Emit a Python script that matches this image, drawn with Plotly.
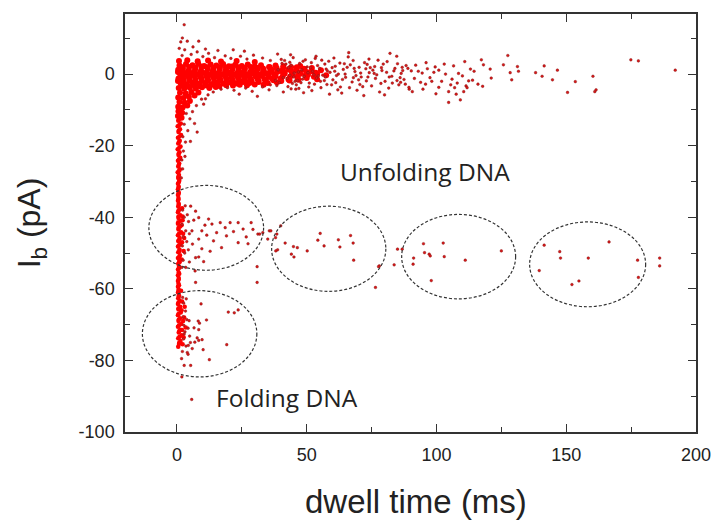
import plotly.graph_objects as go

# ---------------- data ----------------
x_ticks = [0, 50, 100, 150, 200]
x_ticktext = ["0", "50", "100", "150", "200"]
x_minor = [25, 75, 125, 175]
y_ticks = [-100, -80, -60, -40, -20, 0]
y_ticktext = ["-100", "-80", "-60", "-40", "-20", "0"]
y_minor = [-90, -70, -50, -30, -10, 10]

# dense core of the horizontal cloud near I_b = 0
core_x = [1.0, 3.5, 6.0, 8.2, 10.5, 13.0, 15.2, 17.8, 20.0, 22.5, 25.0, 27.3, 30.0, 32.4, 35.5, 38.0, 41.0, 44.0, 47.5,
          0.5, 2.3, 4.6, 7.0, 9.3, 11.8, 14.0, 16.5, 19.0, 21.4, 23.8, 26.2, 28.7, 31.0, 33.5, 36.5, 40.0, 43.0, 46.0, 49.0, 52.0, 55.5,
          1.2, 3.4, 5.8, 8.0, 10.4, 12.7, 15.0, 17.4, 19.8, 22.2, 24.6, 27.0, 29.5, 32.0, 34.5, 37.5, 41.5, 44.5, 47.5, 50.5, 54.0, 57.5,
          0.6, 2.6, 4.9, 7.1, 9.5, 11.9, 14.2, 16.6, 19.0, 21.3, 23.7, 26.1, 28.5, 31.0, 33.8, 36.8, 40.0, 43.0, 46.5, 50.0, 54.0,
          1.4, 3.8, 6.1, 8.5, 10.9, 13.2, 15.6, 18.0, 20.5, 23.0, 25.5, 28.0, 31.5, 35.0, 38.5,
          0.7, 2.8, 5.0, 7.3, 9.7, 12.5, 15.0,
          1.2, 3.4, 5.6, 8.3,
          0.5, 2.5, 4.6, 6.8,
          1.0, 3.0, 5.0,
          0.5, 2.2, 4.0,
          0.6, 2.0,
          0.4, 1.8,
          0.8, 4.0, 8.0, 12.0, 17.0, 23.0, 30.0,
          2.2, 4.7, 7.1, 9.4, 11.7, 14.1, 16.6, 18.9, 21.2, 23.6, 26.0, 28.5, 30.8, 33.2, 35.8, 38.4, 41.0, 43.6, 46.2, 49.0, 52.0,
          0.4, 2.4, 4.6, 6.9, 9.2, 11.6, 13.8, 16.2, 18.6, 21.0, 23.4, 25.8, 28.2, 30.6, 33.2, 35.8, 38.6, 41.4, 44.2, 47.0, 50.0, 53.5,
          2.2, 4.5, 6.8, 9.1, 11.4, 13.7, 16.0, 18.5, 20.9, 23.2, 25.6, 28.0, 30.3, 32.8, 35.4, 38.0, 40.8, 43.6, 46.5, 49.5, 52.8,
          0.4, 2.5, 4.8, 7.2, 9.6, 12.0, 14.4, 16.8, 19.2, 21.6, 24.0, 26.4, 28.8, 31.4, 34.2, 37.2, 40.2, 43.4, 46.8,
          2.0, 4.4, 6.6, 9.0, 11.4, 13.9, 16.4, 19.0, 21.6, 24.2, 27.0, 30.0, 33.4]
core_y = [2.4, 2.8, 2.5, 2.9, 2.3, 2.7, 2.4, 2.8, 2.2, 2.6, 2.3, 2.7, 2.1, 2.5, 2.0, 2.4, 2.2, 1.9, 2.3,
          1.2, 1.5, 1.1, 1.4, 1.0, 1.5, 1.2, 1.4, 1.0, 1.3, 1.1, 1.5, 1.0, 1.3, 0.9, 1.2, 0.9, 1.3, 1.0, 1.2, 0.8, 1.1,
          0.1, -0.2, 0.2, -0.1, 0.3, -0.2, 0.1, -0.1, 0.2, -0.2, 0.1, -0.1, 0.2, -0.2, 0.1, -0.1, 0.2, -0.1, 0.1, -0.2, 0.0, -0.3,
          -1.2, -1.5, -1.1, -1.4, -1.2, -1.5, -1.1, -1.4, -1.2, -1.5, -1.1, -1.3, -1.5, -1.2, -1.4, -1.3, -1.2, -1.5, -1.3, -1.1, -1.4,
          -2.5, -2.8, -2.4, -2.7, -2.5, -2.8, -2.4, -2.6, -2.3, -2.6, -2.2, -2.5, -2.2, -2.5, -2.3,
          -3.9, -4.1, -3.8, -4.0, -3.7, -3.9, -3.6,
          -5.2, -5.4, -5.0, -5.1,
          -6.5, -6.7, -6.3, -6.0,
          -7.8, -8.0, -7.5,
          -9.1, -9.3, -8.8,
          -10.4, -10.8,
          -11.7, -12.2,
          3.7, 3.9, 3.6, 3.8, 3.5, 3.7, 3.4,
          1.9, 2.0, 1.8, 2.1, 1.9, 1.7, 2.0, 1.8, 2.1, 1.9, 1.7, 2.0, 1.8, 1.6, 1.9, 1.7, 1.8, 1.6, 1.9, 1.5, 1.7,
          0.6, 0.7, 0.5, 0.8, 0.6, 0.4, 0.7, 0.5, 0.8, 0.6, 0.4, 0.7, 0.5, 0.6, 0.8, 0.5, 0.6, 0.4, 0.7, 0.5, 0.6, 0.4,
          -0.6, -0.7, -0.5, -0.8, -0.6, -0.4, -0.7, -0.5, -0.8, -0.6, -0.4, -0.7, -0.6, -0.5, -0.8, -0.6, -0.5, -0.7, -0.6, -0.4, -0.7,
          -1.9, -2.0, -1.8, -2.1, -1.9, -1.7, -2.0, -1.8, -2.1, -1.9, -1.7, -2.0, -1.9, -1.8, -2.0, -1.7, -1.9, -1.8, -1.6,
          -3.2, -3.3, -3.1, -3.4, -3.2, -3.0, -3.3, -3.1, -3.2, -3.0, -3.1, -2.9, -3.0]

# dense vertical band at very short dwell times
band_x = [0.5, 1.5, 0.3, 1.2, 0.6, 1.6, 0.4, 1.1, 0.5, 1.4, 0.3, 1.0, 0.6, 1.3, 0.4, 0.9, 0.5, 1.1, 0.3, 0.8,
          0.5, 0.9, 0.4, 0.7, 0.4, 0.7, 0.4, 0.6, 0.4, 0.7, 0.5, 1.0, 0.4, 1.3, 0.6, 1.5, 0.4, 1.2, 0.6, 1.6,
          0.4, 1.1, 0.5, 1.4, 0.4, 1.0, 0.5, 1.2, 0.4, 0.9, 0.5, 0.8, 0.4, 0.7, 0.4, 0.7, 0.4, 0.6, 0.4, 0.7,
          0.4, 0.8, 0.5, 1.1, 0.4, 1.3, 0.6, 1.5, 0.4, 1.2, 0.6, 1.7, 0.4, 1.3, 0.7, 1.8, 0.5, 1.4, 0.8, 0.5,
          0.8, 0.9, 0.7, 1.0, 0.8, 0.9, 0.7, 0.8, 0.7, 0.9, 0.6, 0.7, 0.6, 0.7, 0.6, 0.7, 0.6, 0.6, 0.5, 0.6,
          0.8, 0.9, 0.8, 1.0, 0.9, 1.0, 0.8, 0.9, 0.7, 0.8, 0.6, 0.7, 0.6, 0.6, 0.6, 0.7, 0.8, 0.9, 1.0, 0.9,
          2.0, 2.2, 1.8, 2.4, 2.0, 2.6, 1.8, 2.2, 2.8,
          2.0, 1.8, 2.4, 2.0, 2.6, 2.2, 3.0, 3.4, 1.6, 2.8, 3.6]
band_y = [-13.0, -13.8, -14.6, -15.4, -16.2, -17.0, -17.8, -18.6, -19.4, -20.2, -21.0, -21.8, -22.6, -23.4,
          -24.2, -25.0, -25.8, -26.6, -27.4, -28.2, -29.0, -29.8, -30.6, -31.4, -32.2, -33.0, -33.8, -34.6,
          -35.4, -36.2, -37.0, -37.8, -38.6, -39.4, -40.2, -41.0, -41.8, -42.6, -43.4, -44.2, -45.0, -45.8,
          -46.6, -47.4, -48.2, -49.0, -49.8, -50.6, -51.4, -52.2, -53.0, -53.8, -54.6, -55.4, -56.2, -57.0,
          -57.8, -58.6, -59.4, -60.2, -61.0, -61.8, -62.6, -63.4, -64.2, -65.0, -65.8, -66.6, -67.4, -68.2,
          -69.0, -69.8, -70.6, -71.4, -72.2, -73.0, -73.8, -74.6, -75.4, -76.2,
          -12.6, -14.2, -15.8, -17.4, -19.0, -20.6, -22.2, -23.8, -25.4, -27.0, -28.6, -30.2, -31.8, -33.4,
          -35.0, -36.6, -38.2, -39.8, -41.4, -43.0,
          -44.6, -46.2, -47.8, -49.4, -51.0, -52.6, -54.2, -55.8, -57.4, -59.0, -60.6, -62.2, -63.8, -65.4,
          -67.0, -68.6, -70.2, -71.8, -73.4, -75.0,
          -37.5, -39.8, -42.2, -44.6, -47.0, -49.4, -51.8, -40.8, -45.8,
          -63.5, -66.0, -69.0, -71.5, -73.5, -75.5, -65.0, -70.8, -60.5, -68.0]

# individual events (sparser regions)
events_x = [
    # above the core
    2.8, 2.1, 1.5, 4.0, 8.4, 7.8, 12.2, 18.6, 0.9, 3.0, 5.5, 10.0, 14.5, 20.8, 24.5, 27.0, 33.0, 36.0,
    40.2, 43.5, 6.2, 2.0, 15.8, 26.0, 38.8, 29.5, 21.7, 11.0,
    # below the core
    17.0, 19.5, 22.0, 26.5, 29.0, 33.0, 35.5, 38.5, 41.0, 12.0, 9.5, 7.5, 6.0, 11.0, 14.0, 10.3, 24.0,
    31.0, 44.0, 45.5, 43.0, 42.5, 39.5, 36.0, 39.0, 41.0, 42.0, 43.5, 44.5, 38.0, 40.5,
    # band flare
    3.6, 5.0, 2.8, 4.2, 2.3, 3.3, 6.8, 2.5, 1.9, 3.1, 2.2, 1.7, 7.8, 5.2,
    # band middle
    2.2, 2.8, 2.0, 3.4, 2.5, 3.8, 2.1, 3.0, 2.4, 1.9, 4.5, 4.0, 4.8, 4.4, 3.2,
    # band lower
    2.2, 2.6, 3.3, 2.4, 3.8, 2.7, 4.3, 3.1, 4.9, 2.6, 5.2, 3.5, 2.1, 4.0, 1.8,
    # unfolding, short
    5.3, 7.2, 8.4, 12.2, 13.5, 16.7, 18.6, 20.5, 23.6, 25.5, 28.6, 5.8, 9.6, 15.3, 19.1, 26.7, 8.4, 14.1,
    23.6, 27.4, 17.2, 7.2, 9.6, 6.5, 10.8, 6.0, 11.5, 12.8, 4.8, 21.8, 7.0,
    29.3, 31.2, 33.1, 35.6, 38.0, 38.8, 30.9, 30.9, 7.2, 40.0, 38.5, 35.0, 36.2, 31.9,
    # unfolding, ~60 ms
    55.2, 54.3, 56.7, 62.2, 62.8, 66.9, 67.9, 68.1, 50.2, 46.4, 44.9, 41.7, 38.1, 44.1, 45.1, 78.0, 76.5,
    85.0, 86.8, 83.7,
    # unfolding, ~110 ms
    95.0, 102.6, 95.4, 97.2, 97.6, 103.0, 91.2, 91.0, 111.1, 125.0, 98.0, 77.7,
    # unfolding, ~160 ms
    141.5, 147.5, 147.8, 158.5, 166.5, 177.5, 139.6, 152.2, 154.9, 177.8, 186.0, 186.0,
    # folding
    8.4, 10.3, 3.4, 3.6, 9.3, 19.8, 22.1, 23.6, 11.4, 8.2, 8.7, 4.7, 6.6, 8.4, 2.8, 7.8, 8.4, 6.9, 9.7,
    19.2, 4.4, 5.9, 10.1, 4.3, 12.5, 2.8, 5.3, 1.9, 5.7,
    # cloud 40-100 ms
    44.0, 45.2, 46.5, 47.3, 48.1, 49.0, 50.2, 51.0, 52.3, 53.3, 53.8, 55.0, 56.2, 57.0, 57.8, 59.0, 60.1,
    61.0, 62.2, 63.0, 64.1, 65.0, 66.2, 66.8, 67.5, 68.6, 69.4, 70.2, 71.0, 72.3, 73.0, 74.1, 75.0, 76.2,
    77.0, 78.1, 79.0, 80.2, 81.0, 82.1, 82.8, 84.0, 84.7, 85.5, 86.4, 87.5, 88.3, 89.5, 90.3,
    47.0, 52.0, 58.5, 63.5, 72.0, 60.5, 55.5, 49.5, 46.0, 51.5, 54.5, 58.0, 61.5, 64.5, 68.0, 70.5, 74.5,
    76.5, 79.5, 83.0, 87.0,
    41.5, 42.8, 44.8, 45.8, 47.8, 48.6, 50.8, 51.8, 53.0, 54.2, 55.8, 56.8, 57.5, 59.6, 60.8, 62.8, 63.8,
    65.6, 66.5, 67.9, 69.0, 70.8, 71.6, 72.8, 73.6, 75.5, 77.5, 78.6, 80.8, 81.6, 83.6, 85.0, 86.0, 88.0,
    89.0, 91.5, 93.0, 94.8, 96.0, 98.2, 99.5, 58.8, 48.8, 62.0, 66.0, 74.0, 80.0, 53.6, 43.8, 57.2, 52.8,
    46.8, 45.0, 48.4, 50.5, 55.3, 59.8, 61.2, 64.8, 68.3, 70.0, 73.3, 76.0, 78.8, 81.8, 84.8,
    # cloud beyond 90 ms
    127.5, 174.9, 177.8, 192.0, 161.0, 161.5, 150.5, 160.3, 153.5, 146.6, 144.7, 141.5, 140.7, 138.2,
    131.2, 131.6, 129.0, 128.4, 125.8, 120.7, 121.1, 117.8, 118.1, 117.3, 113.1, 112.4, 111.4, 110.5,
    109.2, 107.6, 104.7, 104.7, 106.0, 108.5, 106.6, 103.5, 100.9, 100.9, 99.0, 95.8, 93.9, 92.0, 90.7,
    89.4, 86.8, 86.2, 110.9, 113.9, 97.5, 102.0, 105.5, 108.0, 110.0, 114.5, 116.0, 96.5, 94.5, 99.8,
    103.0, 107.0, 111.8,
]
events_y = [
    13.8, 10.1, 9.0, 9.2, 9.2, 6.2, 5.8, 5.1, 7.2, 6.8, 5.5, 4.9, 4.6, 4.4, 5.0, 4.2, 4.5, 3.8,
    4.1, 3.3, 7.6, 5.2, 6.6, 6.4, 5.6, 5.3, 6.8, 7.0,
    -4.2, -3.8, -4.5, -3.9, -4.8, -3.6, -4.4, -3.2, -5.0, -5.8, -7.0, -8.8, -10.5, -6.9, -5.0, -8.4, -5.6,
    -6.2, -4.1, -2.0, 1.8, -1.2, -2.4, -3.0, 1.2, -1.0, 2.8, -0.3, -2.6, -1.8, 3.0,
    -11.0, -12.5, -14.0, -15.8, -17.5, -19.0, -13.8, -21.5, -24.0, -23.0, -26.5, -29.0, -16.2, -18.8,
    -38.0, -40.0, -42.0, -43.8, -45.5, -46.8, -48.0, -50.0, -52.0, -54.0, -41.2, -39.3, -44.6, -49.1, -36.8,
    -62.4, -64.0, -66.2, -67.8, -68.6, -70.2, -71.0, -72.0, -73.2, -74.0, -75.0, -76.0, -77.5, -77.8, -79.5,
    -36.9, -38.3, -40.1, -40.5, -41.9, -41.5, -42.9, -41.5, -41.5, -43.3, -41.5, -43.8, -43.8, -44.3,
    -45.2, -45.5, -46.1, -46.6, -47.1, -47.4, -48.5, -51.3, -48.8, -40.8, -42.2, -47.5, -45.0, -49.5,
    -52.5, -44.0, -55.0,
    -43.4, -44.7, -44.3, -43.8, -45.7, -49.1, -53.8, -58.2, -58.2, -42.4, -44.7, -46.1, -43.8, -44.7,
    -44.5, -46.4, -48.0, -46.3, -48.3, -45.1, -47.2, -52.0, -49.4, -48.5, -48.2, -47.2, -49.4, -50.3,
    -51.1, -53.6, -59.6, -48.9, -48.9, -53.3,
    -47.4, -47.2, -49.9, -50.3, -50.8, -51.0, -51.4, -53.1, -52.0, -49.4, -57.7, -53.8,
    -47.8, -49.6, -51.4, -51.4, -46.9, -52.0, -54.9, -58.8, -57.8, -56.8, -51.4, -53.6,
    -51.1, -52.4, -54.0, -62.8, -64.2, -66.5, -66.7, -65.9, -68.7, -69.0, -69.6, -68.9, -70.9, -71.4,
    -72.6, -73.7, -74.4, -74.9, -74.2, -75.6, -75.8, -76.7, -77.0, -78.3, -79.8, -81.4, -81.4, -84.6, -90.9,
    2.5, 0.3, -1.8, 3.0, 1.2, -0.6, 2.0, -2.5, 0.8, 4.4, -1.1, 1.6, -0.3, 2.8, -2.9, 0.5, -1.6,
    2.2, 0.0, -3.6, 1.3, -0.9, 6.0, 2.6, -2.2, 0.7, -4.5, 1.9, -0.8, 3.2, -1.9, 0.4, -3.3, 2.1,
    -0.2, -5.0, 1.0, -2.0, 3.5, 5.8, -0.6, 1.6, 5.0, -3.0, 0.2, -1.5, 2.4, -4.2, 0.9,
    -4.0, -4.6, 3.6, -5.3, -6.0, 4.5, -3.8, 4.0, -3.0, 1.8, -0.5, 0.9, -0.4, 2.9, -1.0, -2.9, 1.8,
    -1.2, 2.8, -2.5, 1.0,
    3.8, -3.5, 4.6, -4.2, -2.4, 3.6, -3.6, 3.2, -2.8, 2.4, 3.9, -1.8, 1.4, -3.0, 0.8, 3.1, -1.5,
    1.9, -3.8, 3.8, -0.4, 0.3, -3.5, 1.5, -0.8, 1.1, 3.9, -2.6, 0.5, -3.9, 0.9, 2.9, -1.0, -2.8,
    1.6, -1.2, 0.8, -4.2, 3.2, -2.0, 2.0, -5.6, -5.2, -4.4, 4.8, 4.2, -5.8, 5.0, 5.4, -0.8, -0.2,
    0.6, -0.8, -1.4, 0.4, -2.0, 1.8, -2.4, 0.0, 1.6, -1.6, 2.7, 0.2, 1.8, -0.8, -1.8,
    5.2, 4.0, 3.7, 1.1, -4.9, -4.4, -5.1, -0.6, -2.1, 1.1, -1.6, 2.3, -0.6, 0.4,
    2.1, 0.8, -1.6, 0.4, 2.6, 1.4, -1.1, -3.4, 2.6, 4.0, 1.4, -1.9, -3.3, -4.9,
    -7.2, -5.6, -7.9, -4.9, -1.4, 0.2, 2.3, 0.0, 1.1, -3.7, 0.5, -2.8, -2.3, 2.5, -4.9,
    -3.7, 1.9, -2.3, 3.5, -1.7, -1.0, -2.0, -3.0, -2.5, -0.5, 0.8, -2.8, 1.5, 0.3, -5.5,
    2.8, -3.8, -3.8,
]

# dashed ellipses drawn around event groups: (x0, x1, y0, y1) in data units
ellipses = [
    (-10.8, 33.4, -54.8, -31.1),
    (-13.3, 30.8, -84.6, -60.5),
    (36.5, 80.5, -60.7, -36.9),
    (86.6, 130.5, -62.8, -39.2),
    (135.9, 180.6, -65.0, -41.3),
]

labels = ["Unfolding DNA", "Folding DNA"]
label_x = [95.5, 42.4]
label_y = [-27.1, -90.3]

x_title = "dwell time (ms)"
y_title = "I<sub>b</sub> (pA)"

# ---------------- figure ----------------
fig = go.Figure()
fig.add_trace(go.Scatter(x=core_x, y=core_y, mode="markers", hoverinfo="skip",
                         marker=dict(size=6, color="#ff0000", line=dict(width=0))))
fig.add_trace(go.Scatter(x=band_x, y=band_y, mode="markers", hoverinfo="skip",
                         marker=dict(size=4.5, color="#ff0000", line=dict(width=0))))
fig.add_trace(go.Scatter(x=events_x, y=events_y, mode="markers", hoverinfo="skip",
                         marker=dict(size=2.7, color="#d81818",
                                     line=dict(width=0.4, color="#7a1414"))))

for (x0, x1, y0, y1) in ellipses:
    fig.add_shape(type="circle", xref="x", yref="y", x0=x0, x1=x1, y0=y0, y1=y1,
                  line=dict(color="#333333", width=1.2, dash="3px,2px"))

for t, lx, ly in zip(labels, label_x, label_y):
    fig.add_annotation(x=lx, y=ly, xref="x", yref="y", text=t, showarrow=False,
                       font=dict(family="Open Sans, Noto Sans, sans-serif", size=24.5, color="#222222"))

# x-axis title, placed slightly right of the plot centre as in the original
fig.add_annotation(x=0.51, y=-0.167, xref="paper", yref="paper", text=x_title, showarrow=False,
                   xanchor="center", yanchor="middle",
                   font=dict(family="Liberation Sans, Arial, sans-serif", size=33, color="#222222"))

axis_common = dict(
    showgrid=False, zeroline=False, showline=True, linecolor="#333333", linewidth=1.5,
    mirror="ticks", ticks="inside", ticklen=8, tickwidth=1.3, tickcolor="#333333",
    tickfont=dict(family="Liberation Sans, Arial, sans-serif", size=18, color="#222222"),
)

fig.update_layout(
    width=723, height=525,
    margin=dict(l=125, r=18, t=12, b=93),
    paper_bgcolor="white", plot_bgcolor="white",
    showlegend=False,
    xaxis=dict(range=[-20, 200], tickmode="array", tickvals=x_ticks, ticktext=x_ticktext,
               minor=dict(tickmode="array", tickvals=x_minor, ticks="inside", ticklen=5,
                          tickwidth=1.2, tickcolor="#333333"),
               ticklabelstandoff=6,
               **axis_common),
    yaxis=dict(range=[-100, 16.8], tickmode="array", tickvals=y_ticks, ticktext=y_ticktext,
               minor=dict(tickmode="array", tickvals=y_minor, ticks="inside", ticklen=5,
                          tickwidth=1.2, tickcolor="#333333"),
               ticklabelstandoff=5,
               title=dict(text=y_title, standoff=28,
                          font=dict(family="Liberation Sans, Arial, sans-serif", size=32, color="#222222")),
               **axis_common),
)

fig.write_html("out.html")
